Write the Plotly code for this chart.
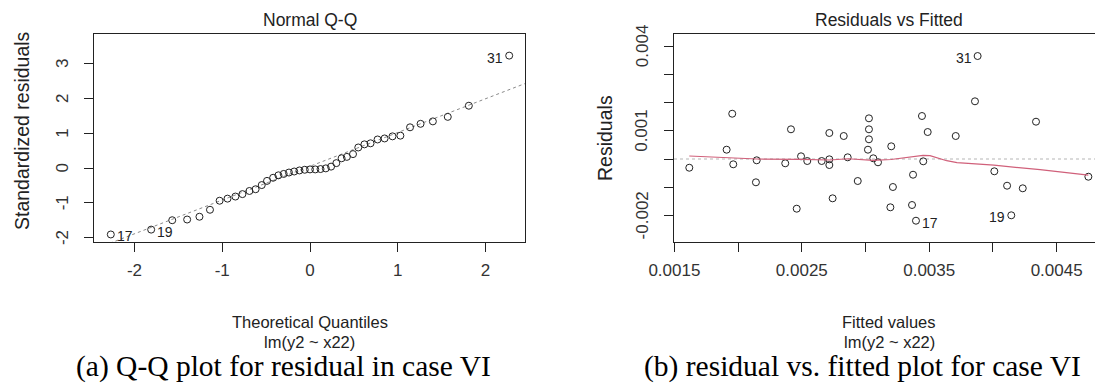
import plotly.graph_objects as go

# ---------------- data ----------------
# (a) Normal Q-Q
theoretical_q = [-2.27, -1.81, -1.57, -1.40, -1.26, -1.14, -1.03, -0.94, -0.85, -0.77, -0.69,
                 -0.62, -0.55, -0.49, -0.42, -0.36, -0.30, -0.24, -0.18, -0.12, -0.06, 0.00,
                 0.06, 0.12, 0.18, 0.24, 0.30, 0.36, 0.42, 0.49, 0.55, 0.62, 0.69, 0.77,
                 0.85, 0.94, 1.03, 1.14, 1.26, 1.40, 1.57, 1.81, 2.27]
std_residuals = [-1.91, -1.77, -1.50, -1.48, -1.40, -1.20, -0.94, -0.88, -0.82, -0.75, -0.66,
                 -0.61, -0.49, -0.37, -0.28, -0.21, -0.17, -0.13, -0.10, -0.07, -0.05, -0.04,
                 -0.04, -0.03, -0.01, 0.04, 0.14, 0.28, 0.32, 0.40, 0.59, 0.68, 0.71, 0.82,
                 0.85, 0.91, 0.93, 1.17, 1.27, 1.34, 1.47, 1.79, 3.23]
qq_line_intercept = 0.05
qq_line_slope = 0.97
qq_label_idx = [0, 1, 42]
qq_label_txt = ["17", "19", "31"]
qq_label_side = ["right", "right", "left"]

# (b) Residuals vs Fitted
fitted = [0.001617, 0.001954, 0.001910, 0.001962, 0.002146, 0.002140, 0.002415, 0.002370,
          0.002460, 0.002494, 0.002543, 0.002656, 0.002716, 0.002716, 0.002716, 0.002742,
          0.002829, 0.002860, 0.002939, 0.003027, 0.003027, 0.003027, 0.003019, 0.003061,
          0.003098, 0.003202, 0.003215, 0.003195, 0.003373, 0.003365, 0.003396, 0.003443,
          0.003453, 0.003488, 0.003708, 0.003859, 0.003880, 0.004011, 0.004111, 0.004144,
          0.004234, 0.004338, 0.004749]
residuals = [-0.000309, 0.001606, 0.000330, -0.000188, -0.000046, -0.000826, 0.001053, -0.000152,
             -0.001762, 0.000096, -0.000071, -0.000071, 0.000922, -0.000011, -0.000213, -0.001394,
             0.000816, 0.000060, -0.000780, 0.001443, 0.001053, 0.000699, 0.000330, 0.000025,
             -0.000117, 0.000450, -0.000993, -0.001713, -0.000557, -0.001631, -0.002188, 0.001525,
             -0.000082, 0.000957, 0.000816, 0.002046, 0.003652, -0.000436, -0.000947, -0.001996,
             -0.001039, 0.001323, -0.000628]
smooth_x = [0.001617, 0.001962, 0.002148, 0.002486, 0.002721, 0.002863, 0.003059, 0.003200,
            0.003373, 0.003451, 0.003506, 0.003637, 0.003718, 0.004008, 0.004370, 0.004749]
smooth_y = [0.000106, 0.000025, 0.000000, -0.000010, -0.000035, 0.000010, -0.000046, -0.000018,
            0.000082, 0.000131, 0.000117, -0.000060, -0.000131, -0.000220, -0.000380, -0.000570]
rv_label_idx = [36, 30, 39]
rv_label_txt = ["31", "17", "19"]
rv_label_side = ["left", "right", "left"]

qq_xticks = [-2, -1, 0, 1, 2]
qq_yticks = [-2, -1, 0, 1, 2, 3]
qq_ytick_text = ["-2", "-1", "0", "1", "2", "3"]
rv_xticks = [0.0015, 0.0020, 0.0025, 0.0030, 0.0035, 0.0040, 0.0045]
rv_xtick_text = ["0.0015", "", "0.0025", "", "0.0035", "", "0.0045"]
rv_yticks = [-0.002, -0.001, 0.0, 0.001, 0.002, 0.003, 0.004]
rv_ytick_text = ["-0.002", "", "", "0.001", "", "", "0.004"]

# ---------------- figure ----------------
W, H = 1095, 385
SANS = "Liberation Sans, Arial, sans-serif"
SERIF = "Liberation Serif, Times New Roman, serif"
INK = "#222222"


def px(x):
    return x / W


def py(y):
    return 1 - y / H


fig = go.Figure()

marker = dict(symbol="circle-open", size=7, color=INK, line=dict(width=1, color=INK))

# QQ reference line
line_x = [-2.6, 2.6]
line_y = [qq_line_intercept + qq_line_slope * v for v in line_x]
fig.add_trace(go.Scatter(x=line_x, y=line_y, mode="lines",
                         line=dict(color="#8a8a8a", width=1, dash="dot"),
                         xaxis="x", yaxis="y", hoverinfo="skip"))
fig.add_trace(go.Scatter(x=theoretical_q, y=std_residuals, mode="markers", marker=marker,
                         xaxis="x", yaxis="y"))

# residual plot
fig.add_trace(go.Scatter(x=fitted, y=residuals, mode="markers", marker=marker,
                         xaxis="x2", yaxis="y2"))
fig.add_trace(go.Scatter(x=smooth_x, y=smooth_y, mode="lines",
                         line=dict(color="#D0607A", width=1.2),
                         xaxis="x2", yaxis="y2", hoverinfo="skip"))

tickfont = dict(family=SANS, size=17, color="#333333")

common_axis = dict(showline=True, linecolor="#222222", linewidth=1, ticks="outside",
                   ticklen=9, tickcolor="#222222", showgrid=False, zeroline=False,
                   tickfont=tickfont, automargin=False)

fig.update_layout(
    template="none",
    width=W, height=H, margin=dict(l=0, r=0, t=0, b=0, pad=0),
    paper_bgcolor="white", plot_bgcolor="white", showlegend=False,
    xaxis=dict(domain=[px(94), px(525)], range=[-2.4615, 2.45], tickvals=qq_xticks,
               ticktext=[str(v) for v in qq_xticks], mirror=True, anchor="y",
               ticklabelstandoff=4, **common_axis),
    yaxis=dict(domain=[py(242), py(34)], range=[-2.126, 3.851], tickvals=qq_yticks,
               showticklabels=False, mirror=True, anchor="x", **common_axis),
    xaxis2=dict(domain=[px(674), 1.0], range=[0.001497, 0.004801], tickvals=rv_xticks,
                ticktext=rv_xtick_text, mirror=True, anchor="y2",
                ticklabelstandoff=4, **common_axis),
    yaxis2=dict(domain=[py(242), py(34)], range=[-0.002943, 0.004433], tickvals=rv_yticks,
                showticklabels=False, anchor="x2", **common_axis),
)

# zero reference line in residual plot
fig.add_shape(type="line", xref="x2 domain", yref="y2", x0=0, x1=1, y0=0, y1=0,
              line=dict(color="#b5b5b5", width=1, dash="dot"), layer="below")

ann = []


def text(x, y, s, size=17.5, family=SANS, color=INK, angle=0, xanchor="center"):
    ann.append(dict(x=px(x), y=py(y), xref="paper", yref="paper", text=s, showarrow=False,
                    font=dict(family=family, size=size, color=color), textangle=angle,
                    xanchor=xanchor, yanchor="middle"))


# titles
text(309.5, 20, "Normal Q-Q")
text(889, 20, "Residuals vs Fitted")
# axis titles
text(309.5, 322, "Theoretical Quantiles", size=16.5)
text(309.5, 342, "lm(y2 ~ x22)", size=16.5)
text(889, 322, "Fitted values", size=16.5)
text(889, 342, "lm(y2 ~ x22)", size=16.5)
text(22, 131, "Standardized residuals", size=19.5, angle=-90)
text(605, 138, "Residuals", size=19.5, angle=-90)
# captions
text(283, 366, "(a) Q-Q plot for residual in case VI", size=29.5, family=SERIF, color="black")
text(862, 366, "(b) residual vs. fitted plot for case VI", size=29.5, family=SERIF, color="black")

# rotated y tick labels (R style, parallel to the axis)
for v, s in zip(qq_yticks, qq_ytick_text):
    if s:
        ann.append(dict(x=px(62.5), y=v, xref="paper", yref="y", text=s, showarrow=False,
                        textangle=-90, xanchor="center", yanchor="middle",
                        font=dict(family=SANS, size=17, color="#333333")))
for v, s in zip(rv_yticks, rv_ytick_text):
    if s:
        ann.append(dict(x=px(642), y=v, xref="paper", yref="y2", text=s, showarrow=False,
                        textangle=-90, xanchor="center", yanchor="middle",
                        font=dict(family=SANS, size=17, color="#333333")))

fig.update_layout(annotations=ann)

# point labels
for i, s, side in zip(qq_label_idx, qq_label_txt, qq_label_side):
    fig.add_annotation(x=theoretical_q[i], y=std_residuals[i], xref="x", yref="y", text=s,
                       showarrow=False, xanchor="left" if side == "right" else "right",
                       xshift=4 if side == "right" else -4, yshift=-2,
                       font=dict(family=SANS, size=14, color=INK))
for i, s, side in zip(rv_label_idx, rv_label_txt, rv_label_side):
    fig.add_annotation(x=fitted[i], y=residuals[i], xref="x2", yref="y2", text=s,
                       showarrow=False, xanchor="left" if side == "right" else "right",
                       xshift=4 if side == "right" else -4, yshift=-2,
                       font=dict(family=SANS, size=14, color=INK))

fig.write_html("out.html")
